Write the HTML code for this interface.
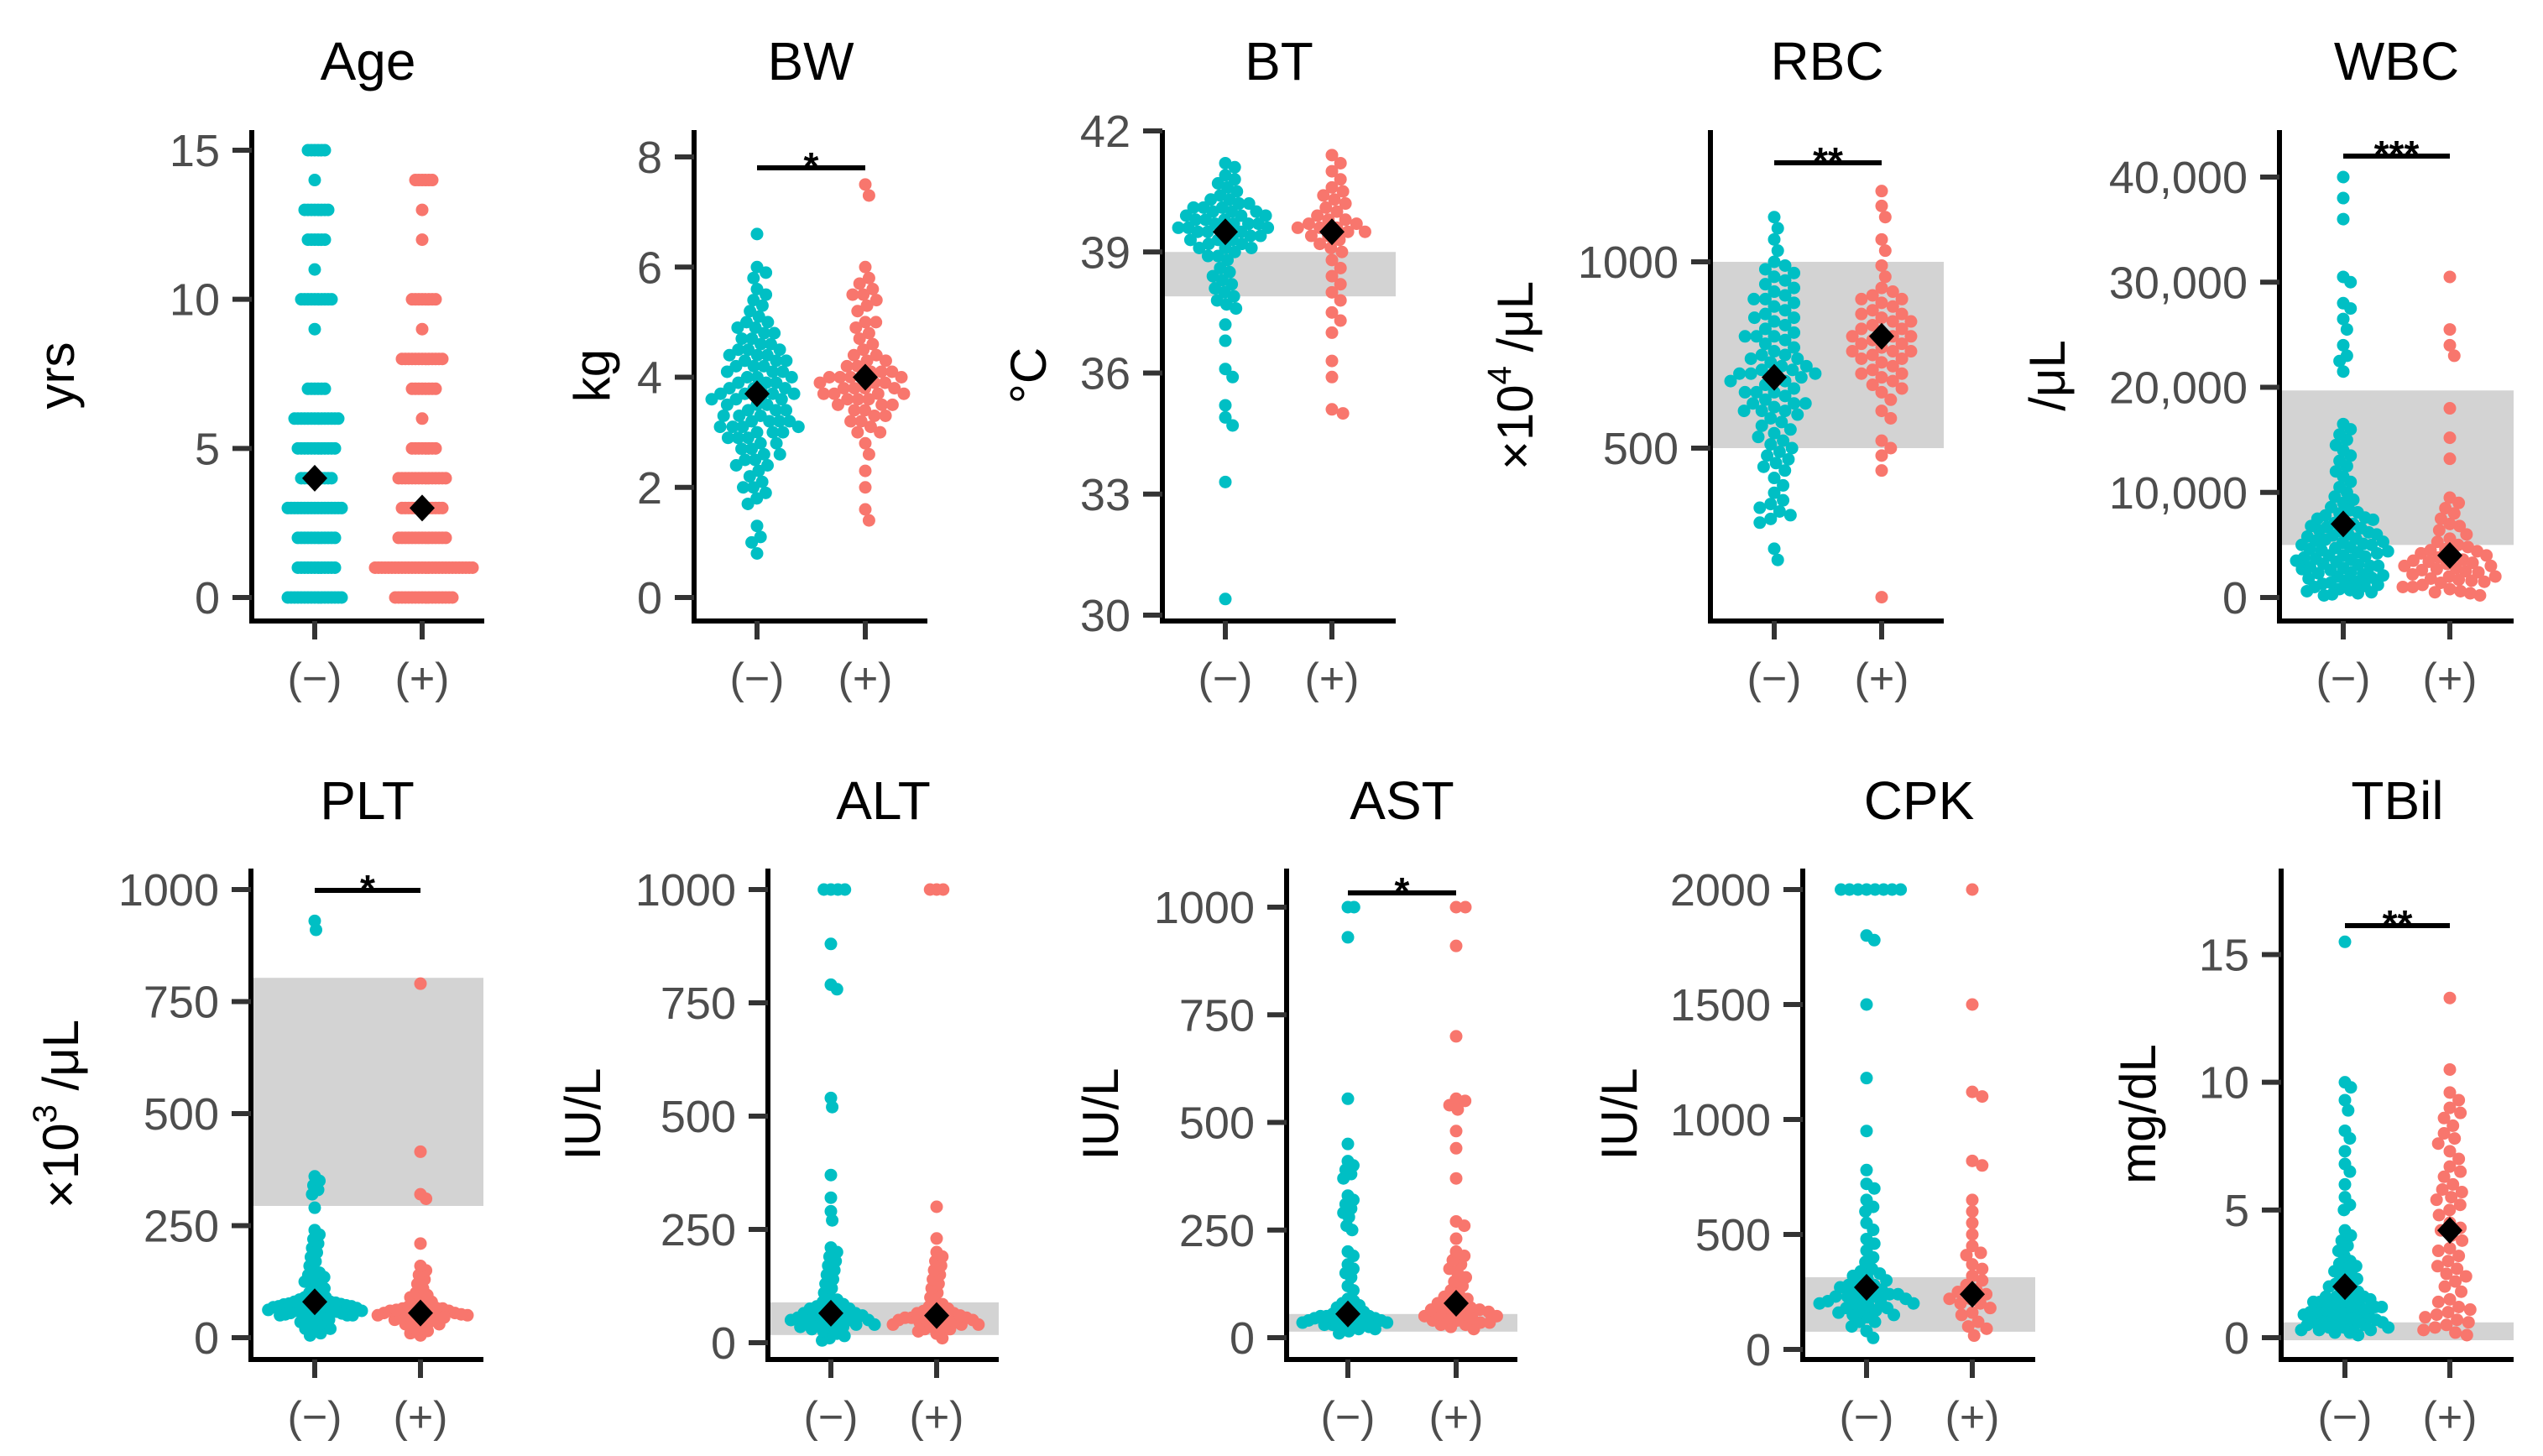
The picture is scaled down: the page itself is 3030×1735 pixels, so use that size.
<!DOCTYPE html>
<html><head><meta charset="utf-8"><style>html,body{margin:0;padding:0;background:#fff}svg{display:block}</style></head>
<body>
<svg id="chart" xmlns="http://www.w3.org/2000/svg" width="3030" height="1735" viewBox="0 0 3030 1735" font-family="'Liberation Sans', Arial, sans-serif"></svg>
<script>
// ---------- DATA ----------
const groupLabels = ["(−)", "(+)"];
const ageLevels = [0,1,2,3,4,5,6,7,8,9,10,11,12,13,14,15];
const ageNegCounts = [17,12,12,17,10,12,14,6,0,1,10,1,6,8,1,6];
const agePosCounts = [18,30,15,13,15,8,1,8,13,1,8,0,1,1,6,0];
const bwNeg = [0.8,1.0,1.1,1.3,1.7,1.8,1.9,2.0,2.0,2.1,2.2,2.3,2.4,2.4,2.5,2.5,2.6,2.6,2.7,2.7,2.8,2.8,2.9,2.9,2.9,3.0,3.0,3.0,3.1,3.1,3.1,3.1,3.2,3.2,3.2,3.2,3.3,3.3,3.3,3.4,3.4,3.4,3.5,3.5,3.5,3.6,3.6,3.6,3.7,3.7,3.7,3.7,3.7,3.8,3.8,3.8,3.9,3.9,3.9,4.0,4.0,4.0,4.1,4.1,4.1,4.2,4.2,4.2,4.3,4.3,4.3,4.4,4.4,4.4,4.5,4.5,4.5,4.6,4.6,4.7,4.7,4.8,4.8,4.9,4.9,5.0,5.0,5.1,5.2,5.3,5.4,5.5,5.6,5.8,5.9,6.0,6.6];
const bwPos = [1.4,1.6,2.0,2.3,2.6,2.8,3.0,3.0,3.1,3.2,3.2,3.3,3.4,3.4,3.5,3.5,3.6,3.6,3.7,3.7,3.7,3.8,3.8,3.8,3.9,3.9,4.0,4.0,4.0,4.0,4.1,4.1,4.2,4.2,4.3,4.3,4.4,4.5,4.6,4.7,4.8,5.0,5.0,5.2,5.3,5.5,5.5,5.6,5.7,5.8,6.0,7.3,7.5,3.5,3.7,3.9,4.1,3.6,3.8,4.0,3.3,4.4,4.9,5.4];
const btNeg = [30.4,33.3,34.7,34.9,35.2,35.9,36.1,36.8,37.2,37.6,37.7,37.8,37.9,38,38.1,38.2,38.3,38.4,38.5,38.6,38.8,38.9,39,39.1,39.1,39.2,39.2,39.3,39.3,39.4,39.4,39.5,39.5,39.5,39.6,39.6,39.6,39.7,39.7,39.7,39.8,39.8,39.8,39.9,39.9,40,40,40,40.1,40.1,40.2,40.2,40.3,40.3,40.4,40.5,40.6,40.7,40.8,40.9,41.1,41.2,39.3,39.5,39.7,39.9,40.1,38.9,39.1];
const btPos = [35,35.1,35.9,36.3,37.0,37.3,37.5,37.8,38,38.2,38.4,38.6,38.8,39,39.1,39.2,39.3,39.4,39.5,39.5,39.6,39.6,39.7,39.7,39.8,39.9,40,40.1,40.2,40.3,40.4,40.5,40.6,40.8,41,41.2,41.4,39.4,39.6,39.8];
const rbcNeg = [200,230,300,310,320,330,340,350,360,380,400,420,440,450,460,470,480,490,500,510,520,530,540,550,560,570,580,590,600,600,610,620,620,630,640,650,650,660,670,680,680,690,690,700,700,710,710,720,720,730,740,740,750,760,770,780,790,800,800,810,820,830,840,850,860,870,880,890,900,910,920,930,940,950,960,970,980,990,1000,1030,1060,1090,1120,650,700,750,800,850,900,600,620];
const rbcPos = [100,440,480,500,520,580,600,630,650,660,670,680,690,700,710,720,730,740,750,760,760,770,780,790,800,800,810,820,830,840,850,860,870,880,890,900,910,920,930,960,990,1030,1060,1120,1150,1190,700,740,780,820,860,900,760,800,840];
const wbcNeg = [0.2,0.4,0.6,0.8,1,1.2,1.4,1.6,1.8,2,2.2,2.4,2.6,2.8,3,3,3.2,3.4,3.6,3.8,4,4,4.2,4.4,4.6,4.8,5,5,5.2,5.4,5.6,5.8,6,6,6.2,6.4,6.6,6.8,7,7.2,7.4,7.6,7.8,8,8.3,8.6,9,9.3,9.6,10,10.5,11,11.5,12,12.5,13,13.5,14,14.5,15,15.5,16,16.5,21.5,22.5,23,24,25.5,26.5,27.5,28,30,30.5,36,38,40,0.3,0.7,1.1,1.5,1.9,2.3,2.7,3.1,3.5,3.9,4.3,4.7,5.1,5.5,5.9,6.3,6.7,7.1,7.5,8.1,0.5,1.3,2.1,2.9,3.7,4.5,5.3];
const wbcPos = [0.2,0.4,0.6,0.8,1,1,1.2,1.4,1.6,1.8,2,2,2.2,2.4,2.6,2.8,3,3,3.2,3.4,3.6,3.8,4,4,4.2,4.4,4.6,4.8,5,5.3,5.6,6,6.4,6.8,7,7.5,8,8.5,9,9.5,13.2,15.2,18,23,24,25.5,30.5,0.5,1.5,2.5,3.5,4.5,1.7,2.7,3.3];
const pltNeg = [5,10,15,20,25,30,35,40,45,50,55,60,60,65,65,70,70,75,75,80,80,85,85,90,90,95,100,105,110,115,120,125,130,135,140,145,150,160,170,180,190,200,210,220,230,240,290,320,330,340,350,360,910,930,20,30,40,50,55,60,62,64,66,68,70,72,74,76,78,80,45,50,52,54,56,58];
const pltPos = [5,10,15,20,25,30,35,40,40,45,45,50,50,50,55,55,55,60,60,60,65,65,70,70,75,80,85,90,95,100,110,120,130,140,150,160,210,310,320,415,790,30,35,45,48,52,58,62,66];
const altNeg = [5,10,15,20,25,30,30,35,35,40,40,40,45,45,45,50,50,50,55,55,55,60,60,60,65,65,70,70,75,75,80,80,85,90,95,100,110,120,130,140,150,160,170,180,190,200,210,270,290,320,370,520,540,780,790,880,1000,1000,1000,1000];
const altPos = [10,20,25,30,30,35,35,40,40,45,45,50,50,50,55,55,60,60,65,65,70,70,75,80,85,90,100,110,120,130,140,150,160,170,180,190,200,230,300,1000,1000,1000,40,45,50,55,60];
const astNeg = [10,15,20,20,25,25,30,30,30,35,35,35,40,40,40,40,45,45,45,50,50,50,55,55,60,60,65,70,75,80,85,90,110,120,140,150,160,170,190,200,250,260,280,290,300,310,320,330,370,380,390,400,410,450,555,930,1000,1000];
const astPos = [20,25,30,30,35,35,40,40,45,45,50,50,55,55,60,60,65,65,70,70,75,80,85,90,95,100,110,120,130,140,150,160,170,180,190,200,230,260,270,370,440,480,530,540,550,555,700,910,1000,1000];
const cpkNeg = [50,80,100,120,140,150,160,170,180,190,200,200,210,210,220,220,230,230,240,240,250,260,270,280,290,300,310,320,330,340,350,380,400,430,460,480,520,550,600,620,650,700,720,780,950,1180,1500,1780,1800,2000,2000,2000,2000,2000,2000,2000,2000,150,180,200,230,260,280,120,170];
const cpkPos = [60,90,100,120,150,160,180,200,200,220,220,240,250,260,280,300,320,350,370,410,420,450,500,550,600,650,800,820,1100,1120,1500,2000];
const tbilNeg = [0.1,0.2,0.3,0.3,0.4,0.4,0.5,0.5,0.6,0.6,0.7,0.7,0.8,0.8,0.9,0.9,1,1,1.1,1.1,1.2,1.2,1.3,1.3,1.4,1.4,1.5,1.5,1.6,1.6,1.7,1.8,1.9,2,2,2.1,2.2,2.3,2.4,2.5,2.6,2.7,2.8,2.9,3,3.2,3.4,3.6,3.8,4,4.2,5,5.2,5.5,6,6.5,6.8,7.3,7.8,8.1,8.9,9.3,9.8,10,15.5,0.2,0.4,0.6,0.8,1,1.2,1.4,1.6,0.3,0.7,1.1,0.5];
const tbilPos = [0.1,0.2,0.3,0.5,0.7,0.8,1,1.2,1.5,1.8,2,2.2,2.5,2.8,3,3.2,3.5,3.8,4,4.2,4.5,4.8,5,5.2,5.5,5.8,6,6.3,6.7,7,7.3,7.6,8,8.3,8.6,9,9.3,9.6,10.5,13.3,0.6,0.9,1.4,2.4,3.4,4.3,5.4,6.5,7.8,8.8,0.4,1.1,2.7,5.7];
// means per panel: [negative, positive]
const panelMeans = {Age:[4,3],BW:[3.7,4.0],BT:[39.5,39.5],RBC:[690,800],WBC:[7,4],PLT:[80,55],ALT:[65,60],AST:[55,80],CPK:[270,240],TBil:[2.0,4.2]};
// reference ranges (grey band)
const panelBands = {BT:[37.9,39],RBC:[500,1000],WBC:[5,19.7],PLT:[294,803],ALT:[17,89],AST:[14,55],CPK:[77,314],TBil:[-0.1,0.6]};
const panelSig = {BW:"*",RBC:"**",WBC:"***",PLT:"*",AST:"*",TBil:"**"};
const yTicks = {Age:[0,5,10,15],BW:[0,2,4,6,8],BT:[30,33,36,39,42],RBC:[500,1000],WBC:[0,10,20,30,40],PLT:[0,250,500,750,1000],ALT:[0,250,500,750,1000],AST:[0,250,500,750,1000],CPK:[0,500,1000,1500,2000],TBil:[0,5,10,15]};
const yTickLabels = {Age:["0","5","10","15"],BW:["0","2","4","6","8"],BT:["30","33","36","39","42"],RBC:["500","1000"],WBC:["0","10,000","20,000","30,000","40,000"],PLT:["0","250","500","750","1000"],ALT:["0","250","500","750","1000"],AST:["0","250","500","750","1000"],CPK:["0","500","1000","1500","2000"],TBil:["0","5","10","15"]};

function expand(levels, counts){const o=[];levels.forEach((v,i)=>{for(let k=0;k<counts[i];k++)o.push(v);});return o;}
const panelData = {
  Age:[expand(ageLevels,ageNegCounts),expand(ageLevels,agePosCounts)],
  BW:[bwNeg,bwPos],BT:[btNeg,btPos],RBC:[rbcNeg,rbcPos],WBC:[wbcNeg,wbcPos],
  PLT:[pltNeg,pltPos],ALT:[altNeg,altPos],AST:[astNeg,astPos],CPK:[cpkNeg,cpkPos],TBil:[tbilNeg,tbilPos]
};

// ---------- LAYOUT (pixels) ----------
const layout = [
 {k:"Age",ax:300,end:577,c:[375,503],top:155,bot:740,v0:0,p0:712,v1:15,p1:179,yt:67,ytitle:["yrs"],sy:0,d:4,mh:999},
 {k:"BW",ax:827,end:1105,c:[902,1031],top:155,bot:740,v0:0,p0:712,v1:8,p1:187,yt:705,ytitle:["kg"],sy:200,d:14,mh:54},
 {k:"BT",ax:1385,end:1663,c:[1460,1587],top:155,bot:740,v0:30,p0:733,v1:42,p1:156,yt:1225,ytitle:["°C"],sy:0,d:14,mh:56},
 {k:"RBC",ax:2038,end:2316,c:[2114,2242],top:155,bot:740,v0:500,p0:534,v1:1000,p1:312,yt:1805,ytitle:["×10","4"," /μL"],sy:194,d:14,mh:52},
 {k:"WBC",ax:2716,end:2995,c:[2792,2919],top:155,bot:740,v0:0,p0:712,v1:40,p1:211,yt:2439,ytitle:["/μL"],sy:186,d:14,mh:56},
 {k:"PLT",ax:299,end:576,c:[375,501],top:1035,bot:1620,v0:0,p0:1594,v1:1000,p1:1060,yt:72,ytitle:["×10","3"," /μL"],sy:1061,d:11,mh:56},
 {k:"ALT",ax:915,end:1190,c:[990,1116],top:1035,bot:1620,v0:0,p0:1600,v1:1000,p1:1060,yt:694,ytitle:["IU/L"],sy:0,d:11,mh:52},
 {k:"AST",ax:1533,end:1808,c:[1606,1735],top:1035,bot:1620,v0:0,p0:1594,v1:1000,p1:1081,yt:1311,ytitle:["IU/L"],sy:1064,d:11,mh:54},
 {k:"CPK",ax:2148,end:2425,c:[2224,2350],top:1035,bot:1620,v0:0,p0:1608,v1:2000,p1:1060,yt:1929,ytitle:["IU/L"],sy:0,d:13,mh:56},
 {k:"TBil",ax:2718,end:2995,c:[2794,2919],top:1035,bot:1620,v0:0,p0:1594,v1:15,p1:1137.5,yt:2547,ytitle:["mg/dL"],sy:1103,d:14,mh:52}
];
const colors = ["#00BFC4","#F8766D"];
const NS="http://www.w3.org/2000/svg";
const svg=document.getElementById('chart');
function mk(tag,attrs,parent){const e=document.createElementNS(NS,tag);for(const a in attrs)e.setAttribute(a,attrs[a]);(parent||svg).appendChild(e);return e;}

function swarm(ys,d,mh){
  const order=ys.map((y,i)=>i).sort((a,b)=>ys[a]-ys[b]);
  const xs=new Array(ys.length).fill(0);const placed=[];
  order.forEach(i=>{
    const y=ys[i];const near=placed.filter(j=>Math.abs(ys[j]-y)<d);
    const cands=[0];
    near.forEach(j=>{const w=Math.sqrt(d*d-(ys[j]-y)**2);cands.push(xs[j]+w,xs[j]-w);});
    cands.sort((a,b)=>Math.abs(a)-Math.abs(b));
    for(const c of cands){
      if(near.every(j=>(c-xs[j])**2+(ys[j]-y)**2>=d*d-0.01)){xs[i]=c;break;}
    }
    placed.push(i);
  });
  const mx=Math.max(...xs.map(Math.abs));
  if(mx>mh){const f=mh/mx;for(let i=0;i<xs.length;i++)xs[i]*=f;}
  return xs;
}

layout.forEach(L=>{
  const g=mk('g',{});
  
  
  const yScale=v=>L.p0+(v-L.v0)*(L.p1-L.p0)/(L.v1-L.v0);
  const mid=(L.top+L.bot)/2;
  const t=mk('text',{x:(L.ax+L.end)/2,y:(L.top<500?95:976),'text-anchor':'middle','font-size':64,fill:'#000'},g);
  t.textContent=L.k;
  
  
  if(panelBands[L.k]){
    const b=panelBands[L.k];const y1=yScale(b[1]),y0=yScale(b[0]);
    const r=mk('rect',{x:L.ax,y:y1,width:L.end-L.ax,height:y0-y1,fill:'#D3D3D3'},g);
    
    
  }
  panelData[L.k].forEach((vals,gi)=>{
    const ys=vals.map(yScale);const xs=swarm(ys,L.d,L.mh);
    ys.forEach((y,i)=>{
      const c=mk('circle',{cx:L.c[gi]+xs[i],cy:y,r:7.5,fill:colors[gi]},g);
      
      
    });
  });
  panelMeans[L.k].forEach((m,gi)=>{
    const x=L.c[gi],y=yScale(m);
    const p=mk('polygon',{points:`${x},${y-16} ${x+15},${y} ${x},${y+16} ${x-15},${y}`,fill:'#000'},g);
    
    
  });
  const ya=mk('line',{x1:L.ax,y1:L.top,x2:L.ax,y2:L.bot+3,stroke:'#000','stroke-width':6},g);
  
  
  const xa=mk('line',{x1:L.ax-3,y1:L.bot,x2:L.end,y2:L.bot,stroke:'#000','stroke-width':6},g);
  
  
  yTicks[L.k].forEach((v,i)=>{
    const y=yScale(v);
    const tk=mk('line',{x1:L.ax-23,y1:y,x2:L.ax,y2:y,stroke:'#333','stroke-width':6},g);
    
    
    const tl=mk('text',{x:L.ax-38,y:y+19,'text-anchor':'end','font-size':54,fill:'#4D4D4D'},g);
    tl.textContent=yTickLabels[L.k][i];
    
    
  });
  L.c.forEach((cx,i)=>{
    const tk=mk('line',{x1:cx,y1:L.bot,x2:cx,y2:L.bot+22,stroke:'#333','stroke-width':6},g);
    
    
    const tl=mk('text',{x:cx,y:L.bot+86,'text-anchor':'middle','font-size':52,fill:'#4D4D4D'},g);
    tl.textContent=groupLabels[i];
    
    
  });
  const yt=mk('text',{x:0,y:0,'text-anchor':'middle','font-size':60,fill:'#000',transform:`translate(${L.yt+21},${mid}) rotate(-90)`},g);
  
  
  if(L.ytitle.length===1){yt.textContent=L.ytitle[0];}
  else{
    const a=mk('tspan',{},yt);a.textContent=L.ytitle[0];
    const b=mk('tspan',{dy:-26,'font-size':40},yt);b.textContent=L.ytitle[1];
    const c=mk('tspan',{dy:26},yt);c.textContent=L.ytitle[2];
  }
  if(panelSig[L.k]){
    const s=mk('line',{x1:L.c[0],y1:L.sy,x2:L.c[1],y2:L.sy,stroke:'#000','stroke-width':6},g);
    
    
    const st=mk('text',{x:(L.c[0]+L.c[1])/2,y:L.sy+14,'text-anchor':'middle','font-size':46,'font-weight':'bold',fill:'#000'},g);
    st.textContent=panelSig[L.k];
    
    
  }
});
</script>
</body></html>
